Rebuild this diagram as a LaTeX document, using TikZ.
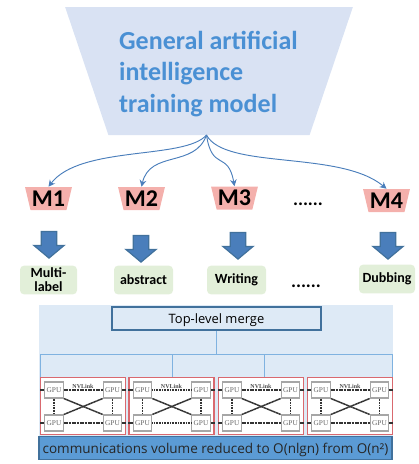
\documentclass[tikz,border=0pt]{standalone}
\usepackage{fontspec}
\setmainfont{Carlito}
\newfontfamily\barfont{Open Sans}
\newfontfamily\gpufont{Liberation Serif}
\usetikzlibrary{shapes.geometric,shapes.arrows,arrows.meta}
\definecolor{topfill}{HTML}{D9E2F3}
\definecolor{toptext}{HTML}{4A90D4}
\definecolor{curveblue}{HTML}{4A7EBB}
\definecolor{modpink}{HTML}{F4B0AC}
\definecolor{arrowblue}{HTML}{4A7EBB}
\definecolor{arrowedge}{HTML}{41719C}
\definecolor{taskgreen}{HTML}{E2EFD9}
\definecolor{panelblue}{HTML}{DEEAF6}
\definecolor{wireblue}{HTML}{7FB2E0}
\definecolor{barblue}{HTML}{5B9BD5}
\definecolor{unitred}{HTML}{D9696F}
\tikzset{
  modbox/.style={trapezium, shape border rotate=180, trapezium stretches=true,
    trapezium left angle=72, trapezium right angle=72, fill=modpink, inner sep=0pt,
    minimum width=35.25pt, minimum height=17.25pt, font=\fontsize{18}{20}\selectfont\bfseries},
  downarrow/.style={single arrow, rotate=-90, fill=arrowblue, draw=arrowedge, line width=0.9pt,
    inner sep=5.4pt, minimum height=20pt, single arrow head extend=5.5pt,
    single arrow tip angle=100},
  taskbox/.style={rounded corners=3pt, fill=taskgreen, inner sep=0pt, align=center,
    minimum height=21.5pt, font=\fontsize{10.5}{10.5}\selectfont\bfseries},
  curve/.style={draw=curveblue, line width=0.7pt, -{Stealth[length=5pt,width=5pt]}},
  wire/.style={draw=wireblue, line width=0.7pt},
  unitbox/.style={draw=unitred, line width=0.8pt, fill=white, minimum width=63.75pt, minimum height=43pt, inner sep=0pt},
  gpubox/.style={draw=black!35, line width=0.8pt, fill=white, minimum width=14pt, minimum height=12pt,
    inner sep=0pt, text=black!60, font=\gpufont\fontsize{5.5}{6}\selectfont},
  nvlink/.style={line width=1.2pt, black!80, dash pattern=on 0.8pt off 0.4pt},
  crossline/.style={line width=1.1pt, black!80, dash pattern=on 2.2pt off 0.3pt},
  stub/.style={line width=1pt, black!80},
  dots/.style={inner sep=0pt, font=\fontsize{14}{14}\selectfont\bfseries},
}
\begin{document}
\begin{tikzpicture}[x=0.75pt, y=-0.75pt]
  \useasboundingbox (0,0) rectangle (418,464);

  % top model
  \node[trapezium, shape border rotate=180, trapezium stretches=true, trapezium left angle=74,
    trapezium right angle=74, fill=topfill, inner sep=0pt, minimum width=216pt, minimum height=96pt] (model) at (209,71) {\phantom{M}};
  \node[align=left, inner sep=0pt, text=toptext, font=\fontsize{19.5}{23.6}\selectfont\bfseries] (title) at (208.5,74)
    {General artificial\\intelligence\\training model};
  \coordinate (root) at (206.5,135);

  % models
  \node[modbox] (m1) at (48.5,198.5) {M1};
  \node[modbox] (m2) at (141.5,198.5) {M2};
  \node[modbox] (m3) at (234.5,198) {M3};
  \node[modbox] (m4) at (386.5,200.5) {M4};
  \node[dots] (dotsa) at (308,204) {......};

  \draw[curve] (root) .. controls (185,160) and (80,145) .. (m1.north);
  \draw[curve] (root) .. controls (195,168) and (150,150) .. (m2.north);
  \draw[curve] (root) .. controls (212,172) and (228,150) .. (m3.north);
  \draw[curve] (root) .. controls (225,170) and (340,150) .. (m4.north);

  % block arrows
  \node[downarrow] (a1) at (49,241.5) {};
  \node[downarrow] (a2) at (141,245.5) {};
  \node[downarrow] (a3) at (238,242.5) {};
  \node[downarrow] (a4) at (388,242.5) {};

  % tasks
  \node[taskbox, minimum width=42.75pt] (t1) at (48.5,280) {Multi-\\label};
  \node[taskbox, minimum width=44.25pt] (t2) at (143.5,280) {abstract};
  \node[taskbox, minimum width=44.25pt] (t3) at (236.5,280) {Writing};
  \node[taskbox, minimum width=42pt] (t4) at (387,279) {Dubbing};
  \node[dots] (dotsb) at (306,286) {......};

  % merge panel
  \fill[panelblue] (39,305) rectangle (393,436);
  \node[draw=arrowedge, line width=0.9pt, minimum width=156.75pt, minimum height=17.25pt, inner sep=0pt, text depth=0pt,
    fill=panelblue, font=\barfont\fontsize{9.7}{12}\selectfont] (merge) at (216.5,318.5) {Top-level merge};
  \coordinate (busl) at (40,354);
  \coordinate (busr) at (392.5,354);
  \coordinate (tapb) at (172,354);
  \coordinate (tapc) at (264,354);
  \draw[wire] (busl) -- (busr);
  \draw[wire] (merge.south) -- (merge.south |- busl);

  \foreach \i/\x in {1/83,2/171.5,3/261,4/350}{
    \node[unitbox] (u\i) at (\x,406) {};
    \node[gpubox] (g\i tl) at ({\x-29},390) {GPU};
    \node[gpubox] (g\i tr) at ({\x+29.5},390) {GPU};
    \node[gpubox] (g\i bl) at ({\x-29},423) {GPU};
    \node[gpubox] (g\i br) at ({\x+29.5},423) {GPU};
    \node[inner sep=0pt, text=black!70, font=\gpufont\bfseries\fontsize{4.5}{5}\selectfont] (nv\i) at (\x,386) {NVLink};
    \draw[nvlink] (g\i tl) -- (g\i tr);
    \draw[nvlink] (g\i bl) -- (g\i br);
    \draw[nvlink] (g\i tl) -- (g\i bl);
    \draw[nvlink] (g\i tr) -- (g\i br);
    \draw[crossline] (g\i tl.south east) -- (g\i br.north west);
    \draw[crossline] (g\i tr.south west) -- (g\i bl.north east);
    \draw[stub] (g\i tl.west) -- (u\i.west |- g\i tl);
    \draw[stub] (g\i bl.west) -- (u\i.west |- g\i bl);
    \draw[stub] (g\i tr.east) -- (u\i.east |- g\i tr);
    \draw[stub] (g\i br.east) -- (u\i.east |- g\i br);
  }
  \draw[wire] (busl) -- (busl |- u1.north);
  \draw[wire] (tapb) -- (tapb |- u2.north);
  \draw[wire] (tapc) -- (tapc |- u3.north);
  \draw[wire] (busr) -- (busr |- u4.north);

  % bottom bar
  \node[draw=arrowedge, line width=0.9pt, fill=barblue, minimum width=264.75pt, minimum height=17.25pt, inner sep=0pt, text depth=0pt,
    text=black!85, font=\barfont\fontsize{10.15}{12}\selectfont] (bar) at (215.5,448) {communications volume reduced to O(nlgn) from O(n²)};
\end{tikzpicture}
\end{document}
